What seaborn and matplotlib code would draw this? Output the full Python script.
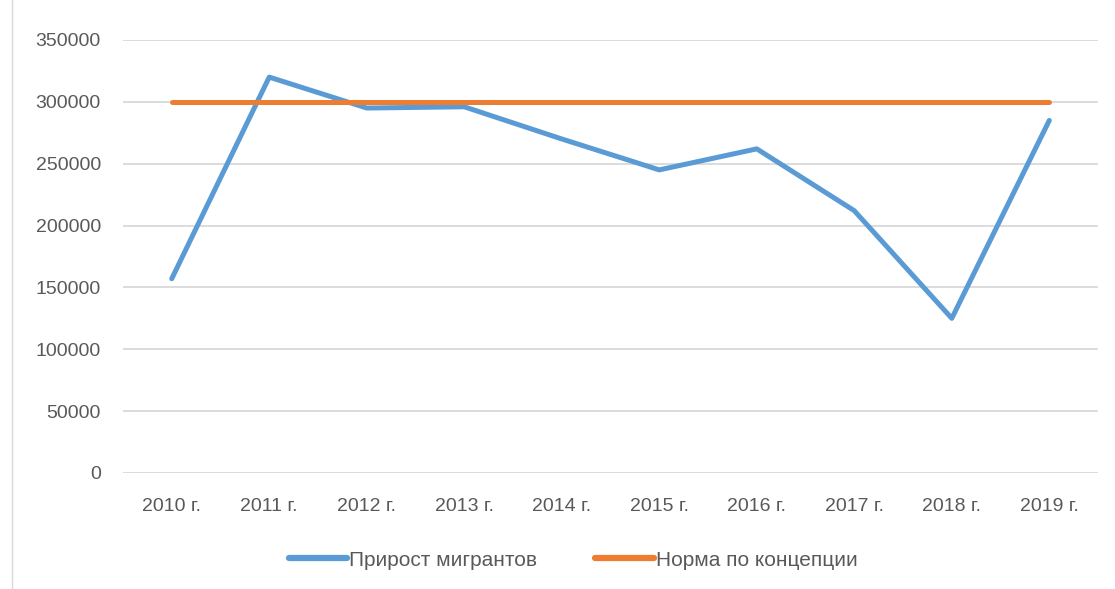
import matplotlib
matplotlib.use("Agg")
import matplotlib.pyplot as plt
import seaborn as sns
import pandas as pd
from matplotlib.patches import Rectangle

# Данные
years = ["2010 г.", "2011 г.", "2012 г.", "2013 г.", "2014 г.",
         "2015 г.", "2016 г.", "2017 г.", "2018 г.", "2019 г."]
prirost = [157000, 320000, 295000, 296000, 270000, 245000, 262000, 212000, 125000, 285000]
norma = [300000] * 10

df = pd.DataFrame({"Год": years * 2,
                   "Значение": prirost + norma,
                   "Серия": ["Прирост мигрантов"] * 10 + ["Норма по концепции"] * 10})

sns.set_style("white")
plt.rcParams['font.family'] = ['Liberation Sans', 'DejaVu Sans']

fig = plt.figure(figsize=(11.15, 5.89), dpi=100)
ax = fig.add_axes([0.1103, 0.197, 0.8745, 0.7351])

cores = {"Прирост мигрантов": "#5B9BD5", "Норма по концепции": "#ED7D31"}
sns.lineplot(data=df, x="Год", y="Значение", hue="Серия", palette=cores,
             linewidth=3.6, ax=ax, legend=False, sort=False)
for ln in ax.lines:
    ln.set_solid_capstyle("round")
    ln.set_solid_joinstyle("round")

ax.set_xlim(-0.5, 9.5)
ax.set_ylim(0, 350000)
ax.set_yticks(range(0, 350001, 50000))
ax.set_yticklabels([str(v) for v in range(0, 350001, 50000)])
ax.yaxis.grid(True, color="#d9d9d9", linewidth=1.3)
ax.set_axisbelow(True)
for s in ax.spines.values():
    s.set_visible(False)
ax.set_xlabel("")
ax.set_ylabel("")
ax.tick_params(axis="y", length=0, pad=16, labelsize=14, labelcolor="#595959")
ax.tick_params(axis="x", length=0, pad=18, labelsize=14, labelcolor="#595959")

# Легенда
handles = [plt.Line2D([], [], color=cores[k], linewidth=4.5, solid_capstyle="round") for k in cores]
fig.legend(handles, list(cores.keys()), loc="center", bbox_to_anchor=(0.514, 0.049),
           ncol=2, frameon=False, fontsize=15, handlelength=2.8, handletextpad=0.1,
           columnspacing=2.8, labelcolor="#595959")

# Рамка области диаграммы
fig.patches.append(Rectangle((12 / 1115, -0.01), 1.1, 1.02, transform=fig.transFigure,
                             fill=False, edgecolor="#d9d9d9", linewidth=1))

fig.savefig("out.png", dpi=100)
